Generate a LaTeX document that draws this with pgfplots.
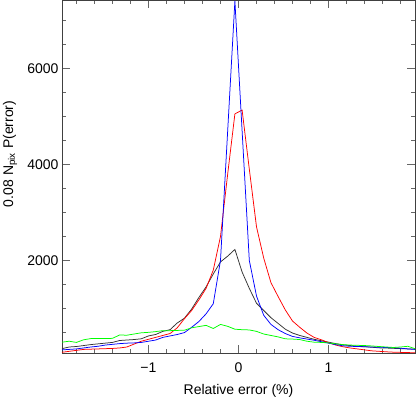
\documentclass[border=0pt]{standalone}
\usepackage{fontspec}
\setmainfont{Liberation Sans}
\usepackage{pgfplots}
\usepackage{pgfplotstable}
\pgfplotsset{compat=1.18}

% x: bin centres (width 0.08); columns: black, red, blue, green curves
\pgfplotstableread{
x     blk   red   blu   grn
-1.96 165   90    140   300
-1.88 200   110   150   320
-1.80 210   130   160   295
-1.72 230   150   180   350
-1.64 250   155   200   375
-1.56 265   160   215   375
-1.48 280   165   240   375
-1.40 295   170   255   380
-1.32 335   180   270   450
-1.24 345   200   280   445
-1.16 355   260   285   470
-1.08 370   320   295   495
-1.00 430   360   320   505
-0.92 460   400   345   520
-0.84 525   440   400   540
-0.76 560   480   430   540
-0.68 700   600   460   545
-0.60 800   790   500   550
-0.52 990   960   610   600
-0.44 1230  1180  730   625
-0.36 1450  1420  890   650
-0.28 1720  1800  1100  585
-0.20 1970  2500  2000  670
-0.12 2090  3800  4700  630
-0.04 2230  5050  7400  570
0.04  1760  5130  4700  560
0.12  1420  3900  2000  555
0.20  1110  2700  1260  525
0.28  960   2050  860   470
0.36  810   1540  670   440
0.44  690   1250  560   410
0.52  570   970   480   370
0.60  490   740   420   365
0.68  440   610   390   355
0.76  400   490   365   320
0.84  360   400   340   300
0.92  330   350   310   295
1.00  300   290   280   285
1.08  270   240   250   265
1.16  245   205   225   250
1.24  230   180   215   240
1.32  215   160   210   235
1.40  205   140   205   230
1.48  195   120   200   222
1.56  182   110   195   210
1.64  178   100   190   200
1.72  172   92    185   190
1.80  166   88    175   200
1.88  160   84    160   215
1.96  155   80    150   165
}\data

\begin{document}
\begin{tikzpicture}
\begin{axis}[
  scale only axis,
  width=353bp, height=353bp,
  xmin=-1.96, xmax=1.96,
  ymin=75, ymax=7420,
  xtick={-1,0,1}, xticklabels={−1,0,1},
  ytick={2000,4000,6000}, yticklabels={2000,4000,6000},
  minor xtick={-1.8,-1.6,-1.4,-1.2,-0.8,-0.6,-0.4,-0.2,0.2,0.4,0.6,0.8,1.2,1.4,1.6,1.8},
  minor ytick={500,1000,1500,2500,3000,3500,4500,5000,5500,6500,7000},
  tick align=inside,
  major tick length=8bp, minor tick length=4.5bp,
  axis line style={black!75, line width=0.6bp},
  tick style={black!60, line width=0.6bp},
  ticklabel style={font=\fontsize{14bp}{16bp}\selectfont},
  xticklabel style={yshift=-6bp},
  label style={font=\fontsize{14bp}{16bp}\selectfont},
  xlabel={Relative error (\%)},
  xlabel style={at={(axis description cs:0.5,0)}, anchor=center, yshift=-38bp},
  ylabel={0.08 N\textsubscript{pix} P(error)},
  ylabel style={at={(axis description cs:-0.147,0.564)}, anchor=center, rotate=0},
  every axis plot/.append style={line width=0.75bp},
]
\addplot[black!80] table[x=x, y=blk] {\data};
\addplot[red] table[x=x, y=red] {\data};
\addplot[blue] table[x=x, y=blu] {\data};
\addplot[green] table[x=x, y=grn] {\data};
\end{axis}
\pgfresetboundingbox
\path ([shift={(-62bp,-46bp)}]current axis.south west) rectangle ([shift={(1bp,0bp)}]current axis.north east);
\end{tikzpicture}
\end{document}
